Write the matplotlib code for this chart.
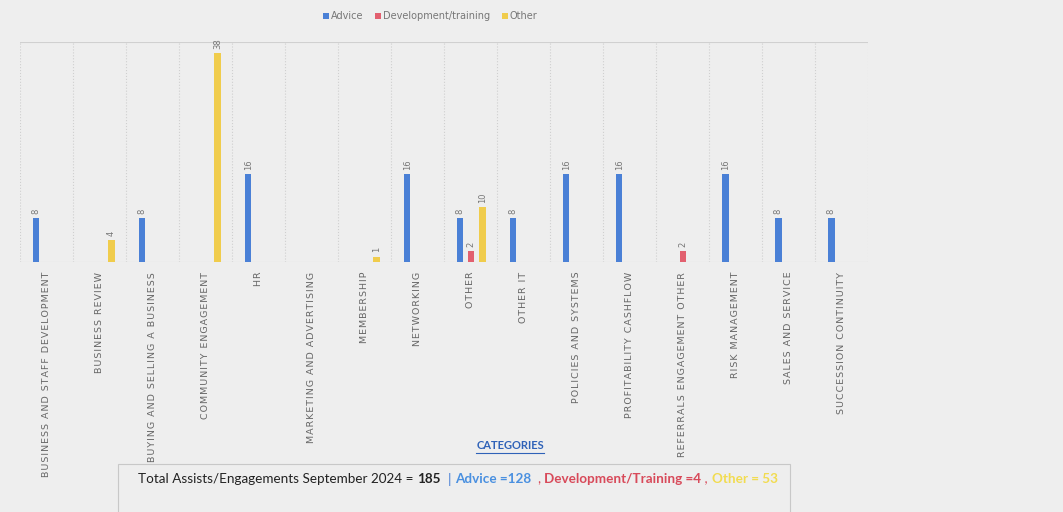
import matplotlib
matplotlib.use("Agg")
import matplotlib.pyplot as plt
import numpy as np

categories = ["BUSINESS AND STAFF DEVELOPMENT", "BUSINESS REVIEW", "BUYING AND SELLING A BUSINESS",
              "COMMUNITY ENGAGEMENT", "HR", "MARKETING AND ADVERTISING", "MEMBERSHIP", "NETWORKING",
              "OTHER", "OTHER IT", "POLICIES AND SYSTEMS", "PROFITABILITY CASHFLOW",
              "REFERRALS ENGAGEMENT OTHER", "RISK MANAGEMENT", "SALES AND SERVICE", "SUCCESSION CONTINUITY"]
advice = [8, 0, 8, 0, 16, 0, 0, 16, 8, 8, 16, 16, 0, 16, 8, 8]
development = [0, 0, 0, 0, 0, 0, 0, 0, 2, 0, 0, 0, 2, 0, 0, 0]
other = [0, 4, 0, 38, 0, 0, 1, 0, 10, 0, 0, 0, 0, 0, 0, 0]
series_names = ["Advice", "Development/training", "Other"]
colors = ["#4a80d6", "#e2606f", "#f0cc4c"]
totals_text = [("Total Assists/Engagements September 2024 = ", "#222222", "normal"),
               ("185", "#222222", "bold"),
               ("  | ", "#4a80d6", "normal"),
               ("Advice =128", "#4a90e0", "bold"),
               ("  , ", "#d84a5a", "normal"),
               ("Development/Training =4", "#d84a5a", "bold"),
               (" , ", "#d84a5a", "normal"),
               ("Other = 53", "#f2dc50", "bold")]

BG = "#eeeeee"
fig = plt.figure(figsize=(10.63, 5.12), dpi=100, facecolor=BG)
ax = fig.add_axes([0.019, 0.488, 0.798, 0.43], facecolor=BG)

x = np.arange(len(categories))
w = 0.12
offs = [-0.2, 0.0, 0.22]
for vals, off, c, name in zip([advice, development, other], offs, colors, series_names):
    xs = [xi + off for xi, v in zip(x, vals) if v > 0]
    vs = [v for v in vals if v > 0]
    ax.bar(xs, vs, width=w, color=c, label=name, zorder=3)
    for xi, v in zip(xs, vs):
        ax.text(xi, v + 0.8, str(v), rotation=90, ha="center", va="bottom",
                fontsize=6, color="#777777")

ax.set_xlim(-0.5, len(categories) - 0.5)
ax.set_ylim(0, 40)
for b in np.arange(-0.5, len(categories) + 0.5, 1):
    ax.axvline(b, color="#cfcfcf", lw=0.8, ls=":", zorder=1)
ax.axhline(40, color="#d0d0d0", lw=0.8, zorder=1)
ax.axhline(0, color="#cccccc", lw=0.8, zorder=2)
for s in ax.spines.values():
    s.set_visible(False)
ax.set_yticks([])
ax.set_xticks(x)
spaced = ["\u200a".join(list(c)) for c in categories]
ax.set_xticklabels(spaced, rotation=90, fontsize=6.8, color="#666666", va="top")
ax.tick_params(axis="x", length=0, pad=7)

leg = fig.legend(loc="center", bbox_to_anchor=(0.405, 0.968), ncol=3, frameon=False,
                 fontsize=7, handlelength=0.6, handleheight=0.6, handletextpad=0.2,
                 columnspacing=1.2, labelcolor="#777777")

fig.canvas.draw()
r = fig.canvas.get_renderer()
# CATEGORIES label with underline
t = fig.text(0.48, 0.12, "CATEGORIES", fontsize=8, color="#2f62b8", fontweight="bold",
             ha="center", va="bottom", family="Lato")
fig.canvas.draw()
bb = t.get_window_extent(r).transformed(fig.transFigure.inverted())
fig.add_artist(plt.Line2D([bb.x0, bb.x1], [bb.y0 - 0.004, bb.y0 - 0.004],
                          transform=fig.transFigure, color="#2f62b8", lw=0.8))

# bottom box
fig.add_artist(plt.Rectangle((0.111, -0.01), 0.632, 0.104, transform=fig.transFigure,
                             facecolor="none", edgecolor="#c8c8c8", lw=0.8))
xpos = 0.13
for s, c, wgt in totals_text:
    tt = fig.text(xpos, 0.064, s, fontsize=9.7, color=c, fontweight=wgt,
                  ha="left", va="center", family="Lato")
    fig.canvas.draw()
    eb = tt.get_window_extent(r).transformed(fig.transFigure.inverted())
    xpos = eb.x1

fig.savefig("out.png", dpi=100, facecolor=BG)
